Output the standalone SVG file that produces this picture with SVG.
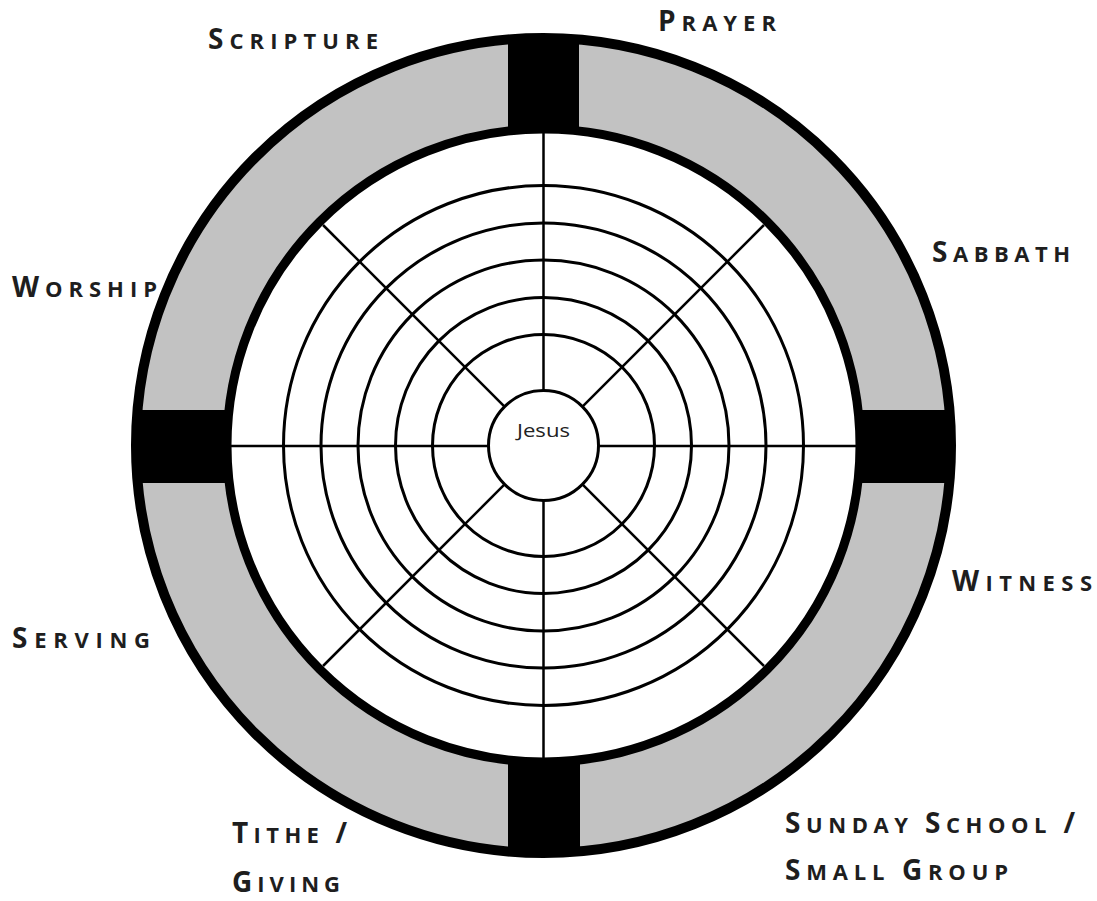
<svg xmlns="http://www.w3.org/2000/svg" width="1097" height="901" viewBox="0 0 1097 901">
<style>
.lbl{font-family:"Open Sans","Liberation Sans",sans-serif;font-weight:700;fill:#1e1e1e;}
.big{font-size:28px;}
.sm{font-size:22px;}
.ring{fill:none;stroke:#000;stroke-width:3;}
.spoke{stroke:#000;stroke-width:2.5;}
.bar{fill:#000;}
</style>
<rect width="1097" height="901" fill="#fff"/>
<g id="outer-band">
<circle cx="543.5" cy="445.5" r="407.5" fill="#c2c2c2"/>
<rect class="bar" x="508" y="38" width="71" height="96"/>
<rect class="bar" x="508" y="756" width="72" height="98"/>
<rect class="bar" x="136" y="410" width="98" height="73"/>
<rect class="bar" x="853" y="410" width="98" height="73"/>
<circle cx="543.5" cy="445.5" r="407.5" fill="none" stroke="#000" stroke-width="10"/>
<circle cx="543.5" cy="445.5" r="316.5" fill="#fff" stroke="#000" stroke-width="9"/>
</g>
<g id="connectors">
<line class="spoke" x1="543.5" y1="390" x2="543.5" y2="133"/>
<line class="spoke" x1="543.5" y1="501" x2="543.5" y2="758"/>
<line class="spoke" x1="488" y1="446" x2="231" y2="446"/>
<line class="spoke" x1="599" y1="446" x2="856" y2="446"/>
<line class="spoke" x1="504.3" y1="406.3" x2="323" y2="225"/>
<line class="spoke" x1="582.7" y1="406.3" x2="764" y2="225"/>
<line class="spoke" x1="504.3" y1="484.7" x2="323" y2="666"/>
<line class="spoke" x1="582.7" y1="484.7" x2="764" y2="666"/>
</g>
<g id="rings">
<circle class="ring" cx="543.5" cy="445.5" r="111"/>
<circle class="ring" cx="543.5" cy="445.5" r="148"/>
<circle class="ring" cx="543.5" cy="445.5" r="185.5"/>
<circle class="ring" cx="543.5" cy="445.5" r="222.5"/>
<circle class="ring" cx="543.5" cy="445.5" r="260"/>
</g>
<g id="jesus">
<circle cx="543.5" cy="445.5" r="55" fill="#fff" stroke="#000" stroke-width="3"/>
<text x="543.5" y="437" text-anchor="middle" font-family="'Open Sans','Liberation Sans',sans-serif" font-size="18" fill="#222" textLength="53" lengthAdjust="spacingAndGlyphs">Jesus</text>
</g>
<g id="label-scripture"><text class="lbl" x="208" y="49" textLength="170" lengthAdjust="spacing"><tspan class="big">S</tspan><tspan class="sm">CRIPTURE</tspan></text></g>
<g id="label-prayer"><text class="lbl" x="658" y="31" textLength="118" lengthAdjust="spacing"><tspan class="big">P</tspan><tspan class="sm">RAYER</tspan></text></g>
<g id="label-sabbath"><text class="lbl" x="932" y="262" textLength="138" lengthAdjust="spacing"><tspan class="big">S</tspan><tspan class="sm">ABBATH</tspan></text></g>
<g id="label-worship"><text class="lbl" x="12" y="297" textLength="145" lengthAdjust="spacing"><tspan class="big">W</tspan><tspan class="sm">ORSHIP</tspan></text></g>
<g id="label-witness"><text class="lbl" x="952" y="591" textLength="140" lengthAdjust="spacing"><tspan class="big">W</tspan><tspan class="sm">ITNESS</tspan></text></g>
<g id="label-serving"><text class="lbl" x="12" y="648" textLength="138" lengthAdjust="spacing"><tspan class="big">S</tspan><tspan class="sm">ERVING</tspan></text></g>
<g id="label-tithe">
<text class="lbl" x="232" y="843" textLength="115" lengthAdjust="spacing"><tspan class="big">T</tspan><tspan class="sm">ITHE </tspan><tspan class="big">/</tspan></text>
<text class="lbl" x="232" y="892" textLength="108" lengthAdjust="spacing"><tspan class="big">G</tspan><tspan class="sm">IVING</tspan></text>
</g>
<g id="label-sunday">
<text class="lbl" x="785" y="833" textLength="290" lengthAdjust="spacing"><tspan class="big">S</tspan><tspan class="sm">UNDAY </tspan><tspan class="big">S</tspan><tspan class="sm">CHOOL </tspan><tspan class="big">/</tspan></text>
<text class="lbl" x="785" y="880" textLength="223" lengthAdjust="spacing"><tspan class="big">S</tspan><tspan class="sm">MALL </tspan><tspan class="big">G</tspan><tspan class="sm">ROUP</tspan></text>
</g>
</svg>
